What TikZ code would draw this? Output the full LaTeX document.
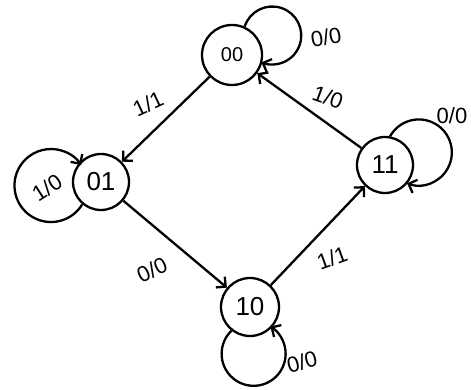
\documentclass[tikz,border=0pt]{standalone}
\usepackage{fontspec}
\setmainfont{Liberation Sans}
\usetikzlibrary{arrows.meta}
\begin{document}
\begin{tikzpicture}[x=1pt,y=1pt,line width=2.3pt,
  state/.style={circle,draw,line width=2.3pt,inner sep=0pt,font=\fontsize{26}{26}\selectfont},
  arr/.style={-{Straight Barb[length=7pt,width=14pt]}},
  lbl/.style={font=\fontsize{22}{22}\selectfont,inner sep=0pt}]
\useasboundingbox (0,0) rectangle (471,-390);
\fill[white] (0,0) rectangle (471,-390);
% states
\node[state,minimum size=60pt,font=\fontsize{20}{20}\selectfont] (s00) at (232,-55) {00};
\node[state,minimum size=56pt] (s01) at (101,-182) {01};
\node[state,minimum size=56pt] (s11) at (385,-165) {11};
\node[state,minimum size=58pt] (s10) at (250,-307) {10};
% self loops
\draw[arr] (s00.66) arc[start angle=162,end angle=-112,radius=29];
\draw[arr] (s01.230) arc[start angle=-31,end angle=-326,radius=36.5];
\draw[arr] (s11.80) arc[start angle=150.7,end angle=-111,radius=33];
\draw[arr] (s10.232) arc[start angle=133.9,end angle=418.5,radius=32];
% transitions
\draw[arr] (s00) -- (s01);
\draw[arr] (s01) -- (s10);
\draw[arr] (s10) -- (s11);
\draw[arr] (s11) -- (s00);
% labels
\node[lbl,rotate=25] (l0001) at (148,-104) {1/1};
\node[lbl,rotate=-20] (l1100) at (328,-97) {1/0};
\node[lbl,rotate=25] (l0110) at (152,-270) {0/0};
\node[lbl,rotate=20] (l1011) at (332,-258) {1/1};
\node[lbl,rotate=10] (l00) at (326,-37) {0/0};
\node[lbl] (l11) at (452,-116) {0/0};
\node[lbl,rotate=15] (l10) at (302,-362) {0/0};
\node[lbl,rotate=33] (l01) at (47,-188) {1/0};
\end{tikzpicture}
\end{document}
